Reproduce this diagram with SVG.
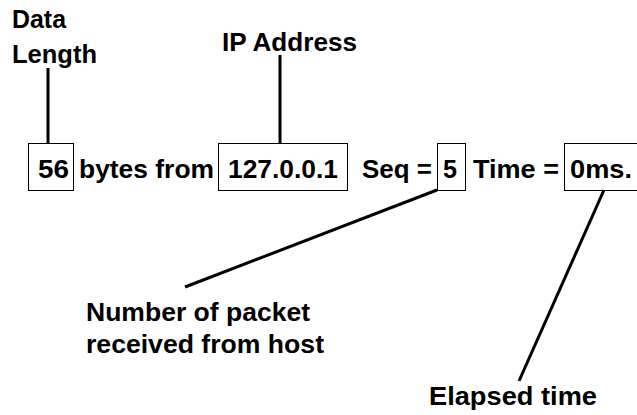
<svg xmlns="http://www.w3.org/2000/svg" width="637" height="415" viewBox="0 0 637 415">
<style>
text{font-family:"Liberation Sans",Arial,sans-serif;font-weight:bold;font-size:26px;fill:#000}
.box{fill:none;stroke:#000;stroke-width:1}
.conn{stroke:#000;stroke-width:3;fill:none}
</style>
<rect width="637" height="415" fill="#fff"/>
<g id="connectors">
<line class="conn" x1="48" y1="68" x2="48" y2="143"/>
<line class="conn" x1="280" y1="55" x2="280" y2="143"/>
<line class="conn" x1="437" y1="190" x2="185" y2="287"/>
<line class="conn" x1="604" y1="190" x2="519" y2="381"/>
</g>
<g id="label-data-length">
<text x="12" y="28" textLength="54" lengthAdjust="spacingAndGlyphs">Data</text>
<text x="12" y="63" textLength="85" lengthAdjust="spacingAndGlyphs">Length</text>
</g>
<g id="label-ip-address">
<text x="222" y="51" textLength="135" lengthAdjust="spacingAndGlyphs">IP Address</text>
</g>
<g id="box-56">
<rect class="box" x="28.5" y="143.5" width="45" height="47"/>
<text x="38" y="178" textLength="31" lengthAdjust="spacingAndGlyphs">56</text>
</g>
<g id="text-bytes-from">
<text x="79" y="178" textLength="135" lengthAdjust="spacingAndGlyphs">bytes from</text>
</g>
<g id="box-ip">
<rect class="box" x="218.5" y="143.5" width="129" height="47"/>
<text x="228" y="178" textLength="110" lengthAdjust="spacingAndGlyphs">127.0.0.1</text>
</g>
<g id="text-seq">
<text x="362" y="178" textLength="70" lengthAdjust="spacingAndGlyphs">Seq =</text>
</g>
<g id="box-seq">
<rect class="box" x="437.5" y="143.5" width="28" height="47"/>
<text x="443" y="178" textLength="14" lengthAdjust="spacingAndGlyphs">5</text>
</g>
<g id="text-time">
<text x="473" y="178" textLength="86" lengthAdjust="spacingAndGlyphs">Time =</text>
</g>
<g id="box-time">
<rect class="box" x="564.5" y="143.5" width="80" height="47"/>
<text x="570" y="178" textLength="62" lengthAdjust="spacingAndGlyphs">0ms.</text>
</g>
<g id="label-packet">
<text x="86" y="321" textLength="224" lengthAdjust="spacingAndGlyphs">Number of packet</text>
<text x="86" y="353" textLength="238" lengthAdjust="spacingAndGlyphs">received from host</text>
</g>
<g id="label-elapsed">
<text x="429" y="405" textLength="168" lengthAdjust="spacingAndGlyphs">Elapsed time</text>
</g>
</svg>
